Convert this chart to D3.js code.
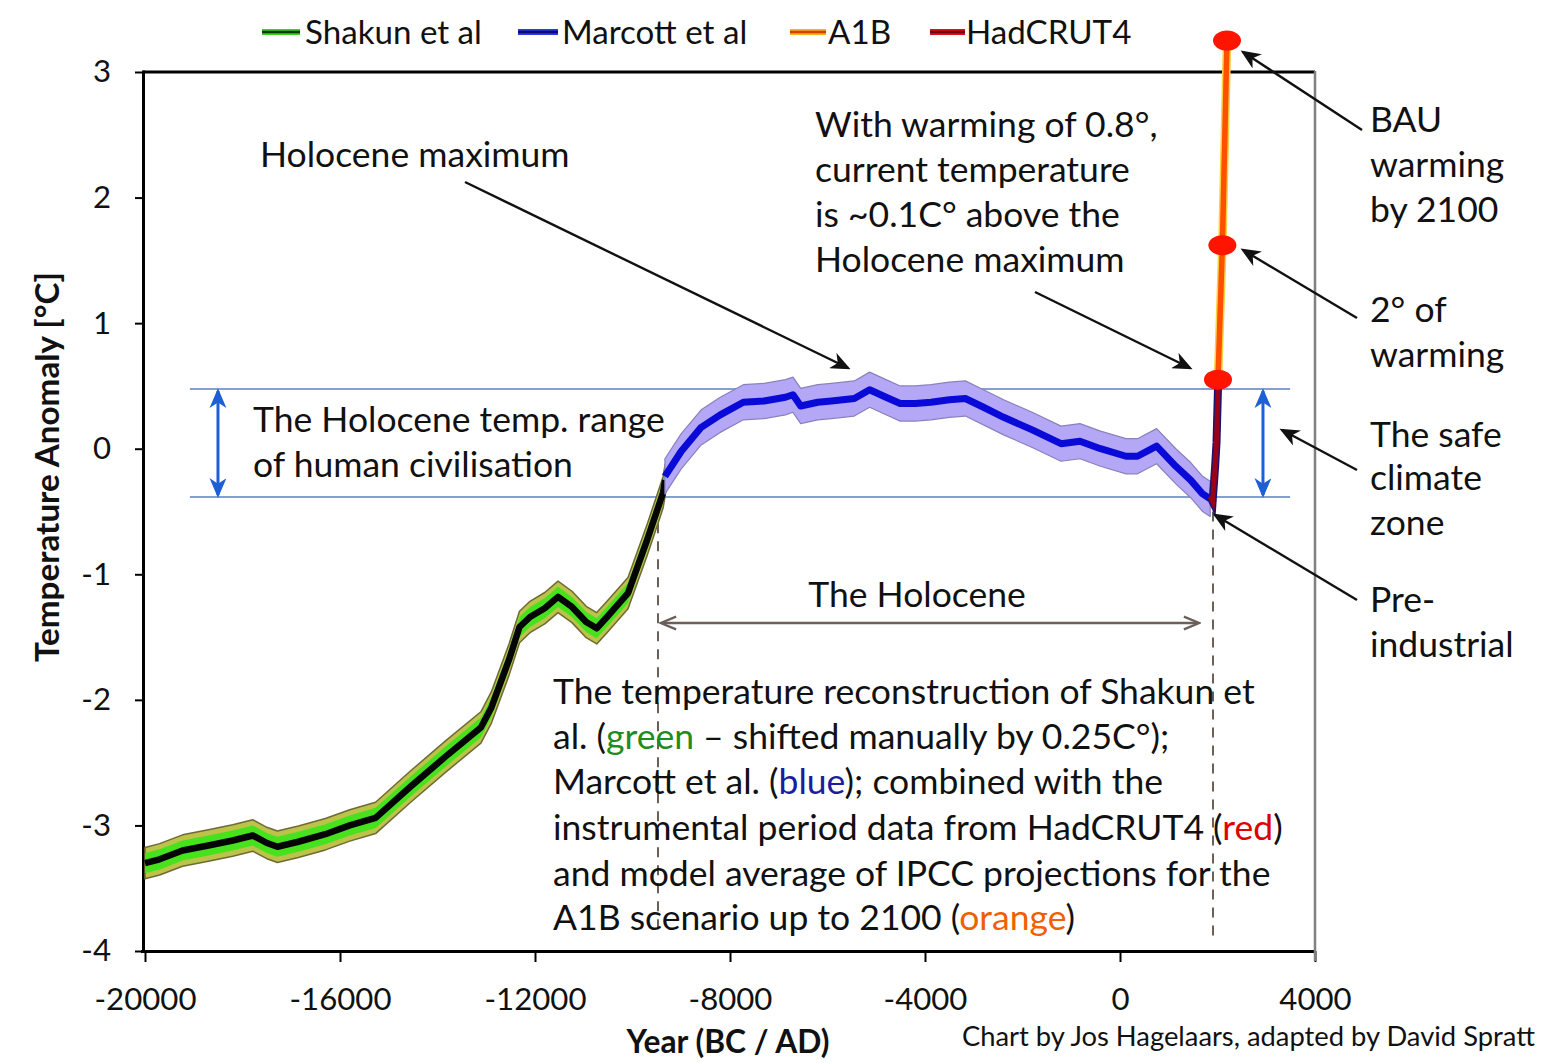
<!DOCTYPE html>
<html><head><meta charset="utf-8">
<script src="https://cdn.jsdelivr.net/npm/d3@7"></script>
<style>body{margin:0;background:#fff} svg{display:block} text{font-family:Lato,"Open Sans",sans-serif;fill:#111}</style>
</head><body><svg id="c" width="1542" height="1063"></svg>
<script>
// ---------------- data ----------------
const shakunYears = [-20000,-19700,-19229,-18700,-18200,-17789,-17500,-17284,-16854,-16300,-15800,-15270,-14550,-13830,-13110,-12894,-12533,-12318,-12103,-11800,-11528,-11241,-10950,-10734,-10523,-10092,-9703,-9477,-9374,-9330];
const shakunValues = [-3.30,-3.27,-3.20,-3.16,-3.12,-3.08,-3.14,-3.17,-3.13,-3.07,-3.00,-2.94,-2.69,-2.45,-2.22,-2.06,-1.68,-1.42,-1.34,-1.27,-1.18,-1.26,-1.38,-1.43,-1.34,-1.15,-0.73,-0.47,-0.35,-0.25];
const marcottYears = [-9335,-9000,-8591,-8200,-7727,-7300,-6863,-6708,-6550,-6200,-5920,-5450,-5136,-4800,-4509,-4200,-3879,-3500,-3173,-2800,-2387,-1800,-1210,-821,-400,123,359,751,1145,1450,1695,1850];
const marcottValues = [-0.22,-0.02,0.17,0.27,0.37,0.38,0.41,0.43,0.34,0.37,0.38,0.40,0.47,0.41,0.36,0.36,0.37,0.39,0.40,0.33,0.25,0.15,0.04,0.06,0.00,-0.06,-0.06,0.02,-0.14,-0.25,-0.36,-0.40];
const hadcrutYears = [1850,1900,1950,1980,2010];
const hadcrutValues = [-0.38,-0.42,-0.15,0.05,0.48];
const a1bYears = [2010,2100,2195];
const a1bValues = [0.55,1.62,3.25];
const xTicks = [-20000,-16000,-12000,-8000,-4000,0,4000];
const yTicks = [-4,-3,-2,-1,0,1,2,3];
const holoceneRange = [-0.385,0.475];
const holoceneRangeSpan = [-19080,3490];
const holoceneBounds = [-9477,1908];
const shakunSpread = 0.125, shakunInner = 0.08, marcottSpread = 0.14;
const legendLabels = ["Shakun et al","Marcott et al","A1B","HadCRUT4"];

// ---------------- setup ----------------
const svg = d3.select("#c");
svg.append("rect").attr("width",1542).attr("height",1063).attr("fill","#fff");
const x = d3.scaleLinear().domain([-20000,4000]).range([145,1315]);
const y = d3.scaleLinear().domain([-4,3]).range([951,72]);
const FONT = 'Lato,"Open Sans",sans-serif';

const defs = svg.append("defs");
function marker(id, color, open){
  const m = defs.append("marker").attr("id",id).attr("viewBox","0 0 14 12")
    .attr("refX",12).attr("refY",6).attr("markerWidth",open?18:20).attr("markerHeight",open?16:17)
    .attr("markerUnits","userSpaceOnUse").attr("orient","auto-start-reverse");
  if(open) m.append("path").attr("d","M1,1 L13,6 L1,11").attr("fill","none").attr("stroke",color).attr("stroke-width",1.8);
  else m.append("path").attr("d","M0,0 L14,6 L0,12 L4,6 Z").attr("fill",color);
}
marker("ab","#111",false);
marker("abl","#1f5fd6",false);
marker("ag","#6b5f5a",true);

function fitGroup(sel, refNode, target){
  const w = refNode.getComputedTextLength();
  const fs = parseFloat(d3.select(refNode).attr("font-size"));
  const nfs = fs*target/w;
  sel.attr("font-size", nfs);
  return nfs;
}

// ---------------- axes & frame ----------------
const gx = svg.append("g").attr("transform","translate(0,951)")
  .call(d3.axisBottom(x).tickValues(xTicks).tickFormat(d=>String(d)).tickSize(11).tickPadding(26).tickSizeOuter(0));
const gy = svg.append("g").attr("transform","translate(143,0)")
  .call(d3.axisLeft(y).tickValues(yTicks).tickFormat(d=>String(d)).tickSize(8).tickPadding(24).tickSizeOuter(0));
[gx,gy].forEach(g=>{
  g.select(".domain").attr("stroke","#000").attr("stroke-width",3);
  g.selectAll(".tick line").attr("stroke","#000").attr("stroke-width",2);
  g.selectAll(".tick text").attr("font-family",FONT).attr("fill","#111").attr("font-size",28);
});
gx.select(".domain").attr("d",`M141,0.5H1316`);
gy.select(".domain").attr("d",`M0.5,70.5V952`);
const tickTexts = svg.selectAll(".tick text");
fitGroup(tickTexts, gx.select(".tick text").node(), 102);
svg.append("line").attr("x1",x(-20000)-2).attr("x2",x(4000)).attr("y1",y(3)).attr("y2",y(3)).attr("stroke","#000").attr("stroke-width",3);
svg.append("line").attr("x1",x(4000)).attr("x2",x(4000)).attr("y1",y(3)-1).attr("y2",y(-4)+10).attr("stroke","#808080").attr("stroke-width",2.5);

// axis titles
const yt = svg.append("text").attr("transform","translate(47,467) rotate(-90)").attr("text-anchor","middle")
  .attr("dy","0.35em").attr("font-weight","bold").attr("font-size",26).text("Temperature Anomaly [°C]");
fitGroup(yt, yt.node(), 390);
const xt = svg.append("text").attr("x",728).attr("y",1042).attr("text-anchor","middle").attr("dy","0.35em")
  .attr("font-weight","bold").attr("font-size",28).text("Year (BC / AD)");
fitGroup(xt, xt.node(), 203);
const cr = svg.append("text").attr("x",962).attr("y",1036).attr("dy","0.35em").attr("font-size",24)
  .text("Chart by Jos Hagelaars, adapted by David Spratt");
fitGroup(cr, cr.node(), 573);

// ---------------- reference lines ----------------
holoceneRange.forEach(v=>{
  svg.append("line").attr("x1",x(holoceneRangeSpan[0])).attr("x2",x(holoceneRangeSpan[1]))
    .attr("y1",y(v)).attr("y2",y(v)).attr("stroke","#5b7fc4").attr("stroke-width",1.6);
});
svg.append("line").attr("x1",x(holoceneBounds[0])).attr("x2",x(holoceneBounds[0]))
  .attr("y1",y(-0.45)).attr("y2",y(-3.88)).attr("stroke","#6b5f5a").attr("stroke-width",2).attr("stroke-dasharray","10,8");
svg.append("line").attr("x1",x(holoceneBounds[1])).attr("x2",x(holoceneBounds[1]))
  .attr("y1",y(-0.5)).attr("y2",y(-3.88)).attr("stroke","#6b5f5a").attr("stroke-width",2).attr("stroke-dasharray","10,8");

// ---------------- series ----------------
const shakun = shakunYears.map((t,i)=>({t, v:shakunValues[i]}));
const marcott = marcottYears.map((t,i)=>({t, v:marcottValues[i]}));
const hadcrut = hadcrutYears.map((t,i)=>({t, v:hadcrutValues[i]}));
const a1b = a1bYears.map((t,i)=>({t, v:a1bValues[i]}));
const band = s => d3.area().x(d=>x(d.t)).y0(d=>y(d.v-s)).y1(d=>y(d.v+s));
const line = d3.line().x(d=>x(d.t)).y(d=>y(d.v));

svg.append("path").datum(shakun).attr("d",band(shakunSpread)).attr("fill","#bcc24a").attr("stroke","#6f6a33").attr("stroke-width",1.5).attr("stroke-linejoin","round");
svg.append("path").datum(shakun).attr("d",band(shakunInner)).attr("fill","#46e21e");
svg.append("path").datum(shakun).attr("d",line).attr("fill","none").attr("stroke","#050505").attr("stroke-width",6.5).attr("stroke-linejoin","round");

svg.append("path").datum(marcott).attr("d",band(marcottSpread)).attr("fill","#b4a8f6").attr("stroke","#8a80bc").attr("stroke-width",1.2).attr("stroke-linejoin","round");
svg.append("path").datum(marcott).attr("d",line).attr("fill","none").attr("stroke","#0a0ad8").attr("stroke-width",7).attr("stroke-linejoin","round");

svg.append("path").datum(hadcrut).attr("d",line).attr("fill","none").attr("stroke","#1a1470").attr("stroke-width",8);
svg.append("path").datum(hadcrut).attr("d",line).attr("fill","none").attr("stroke","#9a0018").attr("stroke-width",5);

svg.append("path").datum(a1b).attr("d",line).attr("fill","none").attr("stroke","#ffd040").attr("stroke-width",8.5);
svg.append("path").datum(a1b).attr("d",line).attr("fill","none").attr("stroke","#ff5000").attr("stroke-width",5.5);
svg.selectAll(".dot").data(a1b).join("ellipse").attr("class","dot")
  .attr("cx",d=>x(d.t)).attr("cy",d=>y(d.v)).attr("rx",14).attr("ry",10).attr("fill","#ff1400");

// ---------------- arrows ----------------
const arrows = [[465,182,848,368],[1035,292,1190,368],[1362,130,1243,52],[1357,318,1243,250],[1357,470,1282,430],[1357,600,1215,515]];
arrows.forEach(a=>svg.append("line").attr("x1",a[0]).attr("y1",a[1]).attr("x2",a[2]).attr("y2",a[3])
  .attr("stroke","#111").attr("stroke-width",2.4).attr("marker-end","url(#ab)"));
[-18503, 2933].forEach(t=>svg.append("line").attr("x1",x(t)).attr("x2",x(t)).attr("y1",y(holoceneRange[1])+2).attr("y2",y(holoceneRange[0])-2)
  .attr("stroke","#1f5fd6").attr("stroke-width",3).attr("marker-start","url(#abl)").attr("marker-end","url(#abl)"));
svg.append("line").attr("x1",x(holoceneBounds[0])+4).attr("x2",x(holoceneBounds[1])-15).attr("y1",623).attr("y2",623)
  .attr("stroke","#6b5f5a").attr("stroke-width",2.5).attr("marker-start","url(#ag)").attr("marker-end","url(#ag)");

// ---------------- annotation text ----------------
const ann = svg.append("g").attr("class","ann");
const para = [
  [["The temperature reconstruction of Shakun et",null]],
  [["al. (",null],["green","#1e8c1e"],[" – shifted manually by 0.25C°);",null]],
  [["Marcott et al. (",null],["blue","#1c1ca0"],["); combined with the",null]],
  [["instrumental period data from HadCRUT4 (",null],["red","#e00000"],[")",null]],
  [["and model average of IPCC projections for the",null]],
  [["A1B scenario up to 2100 (",null],["orange","#f06000"],[")",null]]
];
const paraY = [692,737,782,828,874,918];
let refNode;
para.forEach((ln,i)=>{
  const t = ann.append("text").attr("x",553).attr("y",paraY[i]).attr("dy","0.35em").attr("font-size",30);
  ln.forEach(s=>{ const ts=t.append("tspan").text(s[0]); if(s[1]) ts.style("fill",s[1]); });
  if(i===3) refNode = t.node();
});
const labels = [
  [260,155,"Holocene maximum"],
  [815,125,"With warming of 0.8°,"],[815,170,"current temperature"],[815,215,"is ~0.1C° above the"],[815,260,"Holocene maximum"],
  [1370,120,"BAU"],[1370,165,"warming"],[1370,210,"by 2100"],
  [1370,310,"2° of"],[1370,355,"warming"],
  [1370,435,"The safe"],[1370,478,"climate"],[1370,523,"zone"],
  [1370,600,"Pre-"],[1370,645,"industrial"],
  [253,420,"The Holocene temp. range"],[253,465,"of human civilisation"]
];
labels.forEach(l=>ann.append("text").attr("x",l[0]).attr("y",l[1]).attr("dy","0.35em").attr("font-size",30).text(l[2]));
ann.append("text").attr("x",917).attr("y",595).attr("dy","0.35em").attr("text-anchor","middle").attr("font-size",30).text("The Holocene");
fitGroup(ann.selectAll("text"), refNode, 730);

// ---------------- legend ----------------
const legSw = [[262,300],[518,558],[790,826],[930,965]];
const legTx = [305,562,828,966];
const legOuter = ["#3ad21e","#2a3ae0","#ffb020","#e0101a"];
const legInner = ["#0a3a0a","#0a0a70","#d04000","#700010"];
const lg = svg.append("g");
legendLabels.forEach((lab,i)=>{
  lg.append("line").attr("x1",legSw[i][0]).attr("x2",legSw[i][1]).attr("y1",32).attr("y2",32).attr("stroke",legOuter[i]).attr("stroke-width",6);
  lg.append("line").attr("x1",legSw[i][0]).attr("x2",legSw[i][1]).attr("y1",32).attr("y2",32).attr("stroke",legInner[i]).attr("stroke-width",2.5);
  lg.append("text").attr("x",legTx[i]).attr("y",32).attr("dy","0.35em").attr("font-size",28).text(lab);
});
fitGroup(lg.selectAll("text"), lg.selectAll("text").nodes()[0], 177);
</script></body></html>
